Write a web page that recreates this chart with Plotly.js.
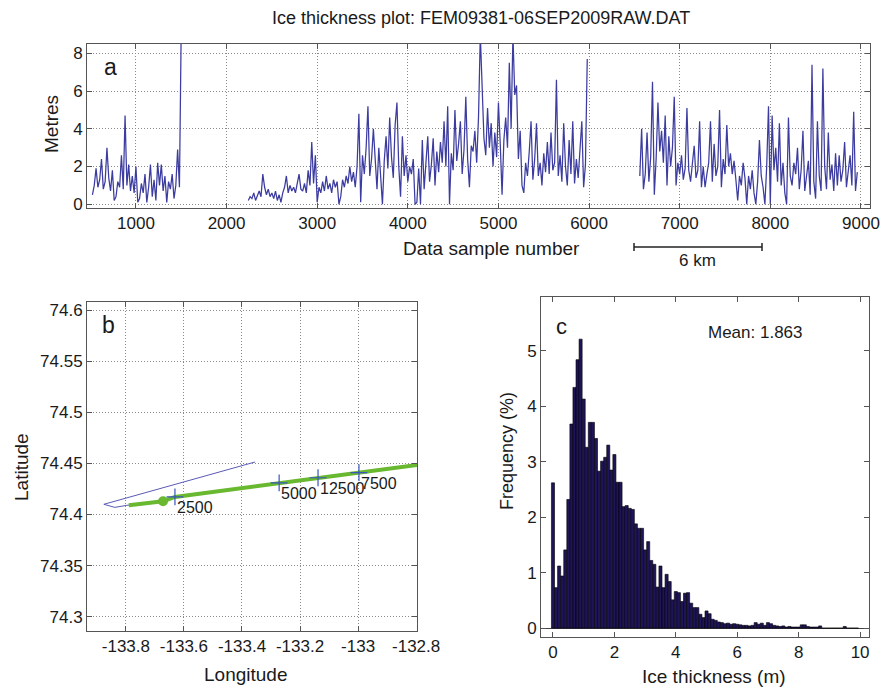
<!DOCTYPE html>
<html><head><meta charset="utf-8">
<script src="https://cdn.plot.ly/plotly-3.0.1.min.js"></script>
<style>html,body{margin:0;padding:0;background:#fff}#chart{width:882px;height:689px}</style>
</head><body><div id="chart"></div>
<script>
// ---------- Panel a: ice thickness along track (three recorded segments) ----------
const seg1Start = 520, seg1Step = 20;
const seg1Values = [
 0.5,1.0,1.9,0.9,1.3,2.4,0.8,1.2,3.0,1.4,
 0.7,1.8,0.2,0.4,1.2,0.9,2.6,0.8,4.7,1.0,
 2.1,0.7,1.5,0.6,2.0,0.1,0.3,1.1,0.6,1.6,
 0.1,0.9,2.1,0.4,1.3,0.2,2.2,1.0,2.1,0.7,
 1.5,0.1,1.2,0.8,1.6,0.3,1.0,2.9,0.9,9.5];
const seg2Start = 2240, seg2Step = 20;
const seg2Values = [
 0.2,0.4,0.3,0.6,0.2,0.5,0.7,0.4,1.6,0.9,
 0.5,0.8,0.4,0.6,0.3,0.7,0.2,0.5,0.1,0.6,
 0.9,1.5,0.6,1.0,0.7,0.9,0.6,1.1,1.6,0.8,
 0.7,1.1,0.6,1.8,1.0,3.3,1.1,2.6,0.1,0.9,
 0.6,1.2,0.7,1.5,0.8,1.1,0.6,1.3,0.9,1.2,
 0.0,0.4,1.3,0.9,1.5,1.1,2.0,1.2,1.7,0.9,
 2.0,4.8,0.1,2.6,1.6,3.0,5.2,1.5,2.4,4.0,
 2.0,0.8,3.0,1.6,0.0,2.3,3.6,1.9,4.6,2.5,
 1.4,4.2,5.4,2.0,0.4,3.6,1.5,2.6,1.2,2.0,
 1.6,2.4,0.0,0.1,1.9,0.0,3.4,0.8,2.3,3.6,
 1.2,2.1,3.5,1.0,2.8,1.7,3.3,2.2,4.4,2.0,
 5.2,0.0,2.7,1.8,5.0,2.3,3.2,4.4,1.6,2.9,
 5.7,2.4,0.9,3.1,2.8,3.9,2.2,4.6,9.0,6.5,
 3.5,2.6,5.1,3.0,4.3,2.0,3.8,2.5,5.4,3.2,
 0.5,3.4,4.6,3.0,7.5,4.0,9.0,5.8,6.3,2.4,
 3.9,1.0,0.6,2.2,1.5,2.8,4.4,1.3,2.4,4.3,
 1.5,2.2,1.0,2.7,1.7,3.3,1.6,3.8,1.8,2.2,
 6.6,1.5,2.6,1.2,4.3,2.0,1.0,3.4,1.6,4.4,
 1.1,2.4,1.4,2.9,4.4,0.9,2.1,7.7];
const seg3Start = 6560, seg3Step = 20;
const seg3Values = [
 1.5,4.0,0.8,1.6,3.8,1.2,2.5,6.5,0.5,2.4,
 5.4,2.8,3.9,2.2,4.7,1.0,3.6,2.0,3.0,5.7,
 1.0,2.2,1.6,2.6,1.3,1.9,5.1,1.8,1.2,2.4,
 3.1,1.4,1.8,4.4,0.9,2.0,0.9,1.6,2.2,4.4,
 1.2,3.2,1.5,2.0,5.0,0.9,2.4,1.6,4.2,2.0,
 2.7,1.6,2.3,1.3,0.2,1.5,1.0,2.2,1.4,0.0,
 1.5,0.8,1.8,0.6,0.0,1.2,3.4,1.5,0.9,0.0,
 2.0,5.2,0.0,4.7,1.8,3.0,1.2,4.3,1.0,2.2,
 0.6,0.0,4.6,1.5,1.0,2.2,1.6,3.0,0.8,1.8,
 3.9,0.7,1.4,2.3,0.5,7.4,1.2,0.3,4.4,1.5,
 0.7,7.2,2.0,0.8,3.8,1.3,2.1,0.7,2.7,1.0,
 2.6,1.2,1.8,3.3,0.9,1.7,2.6,1.0,4.9,0.7,
 1.7];
const aXTicks = [1000,2000,3000,4000,5000,6000,7000,8000,9000];
const aYTicks = [0,2,4,6,8];

// ---------- Panel b: flight track ----------
const blueLon = [-133.355,-133.876,-133.838,-133.797,-133.672,-133.631,-133.272,-133.138,-132.997,-132.797];
const blueLat = [74.4514,74.410,74.407,74.409,74.413,74.4172,74.431,74.436,74.441,74.4485];
const greenLon = [-133.790,-133.672,-133.631,-133.272,-133.138,-132.997,-132.797];
const greenLat = [74.409,74.413,74.4172,74.431,74.436,74.441,74.4485];
const startLon = [-133.672], startLat = [74.413];
const markLon = [-133.631,-133.272,-133.138,-132.997];
const markLat = [74.4172,74.431,74.436,74.441];
const markLabels = ['2500','5000','12500','7500'];
const bXTicks = [-133.8,-133.6,-133.4,-133.2,-133,-132.8];
const bXTickText = ['-133.8','-133.6','-133.4','-133.2','-133','-132.8'];
const bYTicks = [74.3,74.35,74.4,74.45,74.5,74.55,74.6];
const bYTickText = ['74.3','74.35','74.4','74.45','74.5','74.55','74.6'];

// ---------- Panel c: thickness histogram (0.1 m bins, %) ----------
const binWidth = 0.1;
const histFreq = [
 2.62,0.73,1.12,0.94,1.41,2.32,3.68,4.34,4.84,5.21,
 4.13,3.26,3.71,3.71,3.42,2.83,3.01,3.08,3.30,2.85,
 3.13,2.63,2.63,2.19,2.21,2.16,2.14,1.88,1.80,1.80,
 1.41,1.56,1.22,1.15,0.74,1.12,0.73,0.97,0.84,0.51,
 0.66,0.64,0.48,0.63,0.64,0.45,0.37,0.37,0.25,0.19,
 0.31,0.26,0.16,0.14,0.11,0.10,0.08,0.09,0.07,0.08,
 0.07,0.06,0.05,0.05,0.04,0.05,0.10,0.07,0.09,0.05,
 0.10,0.08,0.05,0.04,0.03,0.04,0.02,0.03,0.02,0.02,
 0.02,0.06,0.06,0.03,0.02,0.02,0.02,0.04,0.00,0.00,
 0.00,0.00,0.00,0.00,0.00,0.03,0.00,0.00,0.00,0.00];
const cXTicks = [0,2,4,6,8,10];
const cYTicks = [0,1,2,3,4,5];
const meanThickness = 1.863;

// ---------- build ----------
const W = 882, H = 689;
const px = v => v / W, py = v => 1 - v / H;
const FONT = 'Liberation Sans, Arial, Helvetica, sans-serif';
const TXT = '#1a1a1a';
const samples = (start, step, vals) => vals.map((_, i) => start + i * step);

const lineA = {color:'#3b3ba0', width:1.25};
const traces = [
 {type:'scatter', mode:'lines', x:samples(seg1Start,seg1Step,seg1Values), y:seg1Values, line:lineA, xaxis:'x', yaxis:'y', hoverinfo:'skip'},
 {type:'scatter', mode:'lines', x:samples(seg2Start,seg2Step,seg2Values), y:seg2Values, line:lineA, xaxis:'x', yaxis:'y', hoverinfo:'skip'},
 {type:'scatter', mode:'lines', x:samples(seg3Start,seg3Step,seg3Values), y:seg3Values, line:lineA, xaxis:'x', yaxis:'y', hoverinfo:'skip'},
 {type:'scatter', mode:'lines', x:blueLon, y:blueLat, line:{color:'#5a5ab4', width:1}, xaxis:'x2', yaxis:'y2'},
 {type:'scatter', mode:'lines', x:greenLon, y:greenLat, line:{color:'#68b830', width:4}, xaxis:'x2', yaxis:'y2'},
 {type:'scatter', mode:'markers', x:startLon, y:startLat, marker:{color:'#68b830', size:10}, xaxis:'x2', yaxis:'y2'},
 {type:'scatter', mode:'markers', x:markLon, y:markLat, marker:{symbol:'cross-thin', size:12, line:{color:'#3a56c0', width:1.2}}, xaxis:'x2', yaxis:'y2'},
 {type:'bar', x:histFreq.map((_, i) => i * binWidth), y:histFreq, width:binWidth,
  marker:{color:'#1e1458', line:{color:'#000', width:0.6}}, xaxis:'x3', yaxis:'y3'}
];

const axBase = {showline:true, linecolor:'#555', linewidth:1, mirror:'ticks', ticks:'inside', ticklen:5,
  tickcolor:'#555', tickfont:{family:FONT, size:17, color:TXT}, zeroline:false,
  showgrid:true, gridcolor:'#8a8a8a', griddash:'1px,2px', gridwidth:1, fixedrange:true};

const layout = {
 width:W, height:H, margin:{l:0,r:0,t:0,b:0}, paper_bgcolor:'#fff', plot_bgcolor:'#fff',
 showlegend:false, bargap:0, font:{family:FONT, color:TXT},
 xaxis: Object.assign({}, axBase, {domain:[px(87),px(870)], range:[460,9100], tickmode:'array', tickvals:aXTicks, anchor:'y'}),
 yaxis: Object.assign({}, axBase, {domain:[py(208),py(44)], range:[-0.2,8.5], tickmode:'array', tickvals:aYTicks, anchor:'x'}),
 xaxis2: Object.assign({}, axBase, {domain:[px(87),px(417)], range:[-133.934,-132.797], tickmode:'array', tickvals:bXTicks, ticktext:bXTickText, anchor:'y2'}),
 yaxis2: Object.assign({}, axBase, {domain:[py(631),py(302)], range:[74.286,74.608], tickmode:'array', tickvals:bYTicks, ticktext:bYTickText, anchor:'x2'}),
 xaxis3: Object.assign({}, axBase, {domain:[px(541),px(869)], range:[-0.39,10.29], tickmode:'array', tickvals:cXTicks, showgrid:false, anchor:'y3'}),
 yaxis3: Object.assign({}, axBase, {domain:[py(637),py(297)], range:[-0.16,5.97], tickmode:'array', tickvals:cYTicks, showgrid:false,
   zeroline:true, zerolinecolor:'#444', zerolinewidth:1, anchor:'x3'}),
 shapes: [
  {type:'line', xref:'paper', yref:'paper', x0:px(634), x1:px(762), y0:py(247), y1:py(247), line:{color:'#222', width:1.5}},
  {type:'line', xref:'paper', yref:'paper', x0:px(634), x1:px(634), y0:py(243), y1:py(251), line:{color:'#222', width:1.5}},
  {type:'line', xref:'paper', yref:'paper', x0:px(762), x1:px(762), y0:py(243), y1:py(251), line:{color:'#222', width:1.5}}
 ],
 annotations: []
};

const ann = (text, x, y, size, extra) => Object.assign({text, xref:'paper', yref:'paper', x:px(x), y:py(y),
  xanchor:'center', yanchor:'middle', showarrow:false, font:{family:FONT, size, color:TXT}}, extra || {});
layout.annotations.push(
 ann('Ice thickness plot: FEM09381-06SEP2009RAW.DAT', 481, 18, 18),
 ann('Data sample number', 492, 248, 19),
 ann('6 km', 697, 260, 17),
 ann('Metres', 52, 124, 19, {textangle:-90}),
 ann('a', 110, 67, 23),
 ann('b', 108, 325, 23),
 ann('Latitude', 21, 467, 19, {textangle:-90}),
 ann('Longitude', 245, 674, 19),
 ann('c', 561, 326, 22),
 ann('Mean: ' + meanThickness.toFixed(3), 755, 332, 17),
 ann('Frequency (%)', 507, 451, 18, {textangle:-90}),
 ann('Ice thickness (m)', 714, 676, 19)
);
markLabels.forEach((t, i) => layout.annotations.push({text:t, xref:'x2', yref:'y2', x:markLon[i], y:markLat[i],
  xanchor:'left', yanchor:'middle', xshift:0, yshift:-11, showarrow:false, font:{family:FONT, size:16, color:TXT}}));

Plotly.newPlot('chart', traces, layout, {displayModeBar:false, staticPlot:true});
</script></body></html>
